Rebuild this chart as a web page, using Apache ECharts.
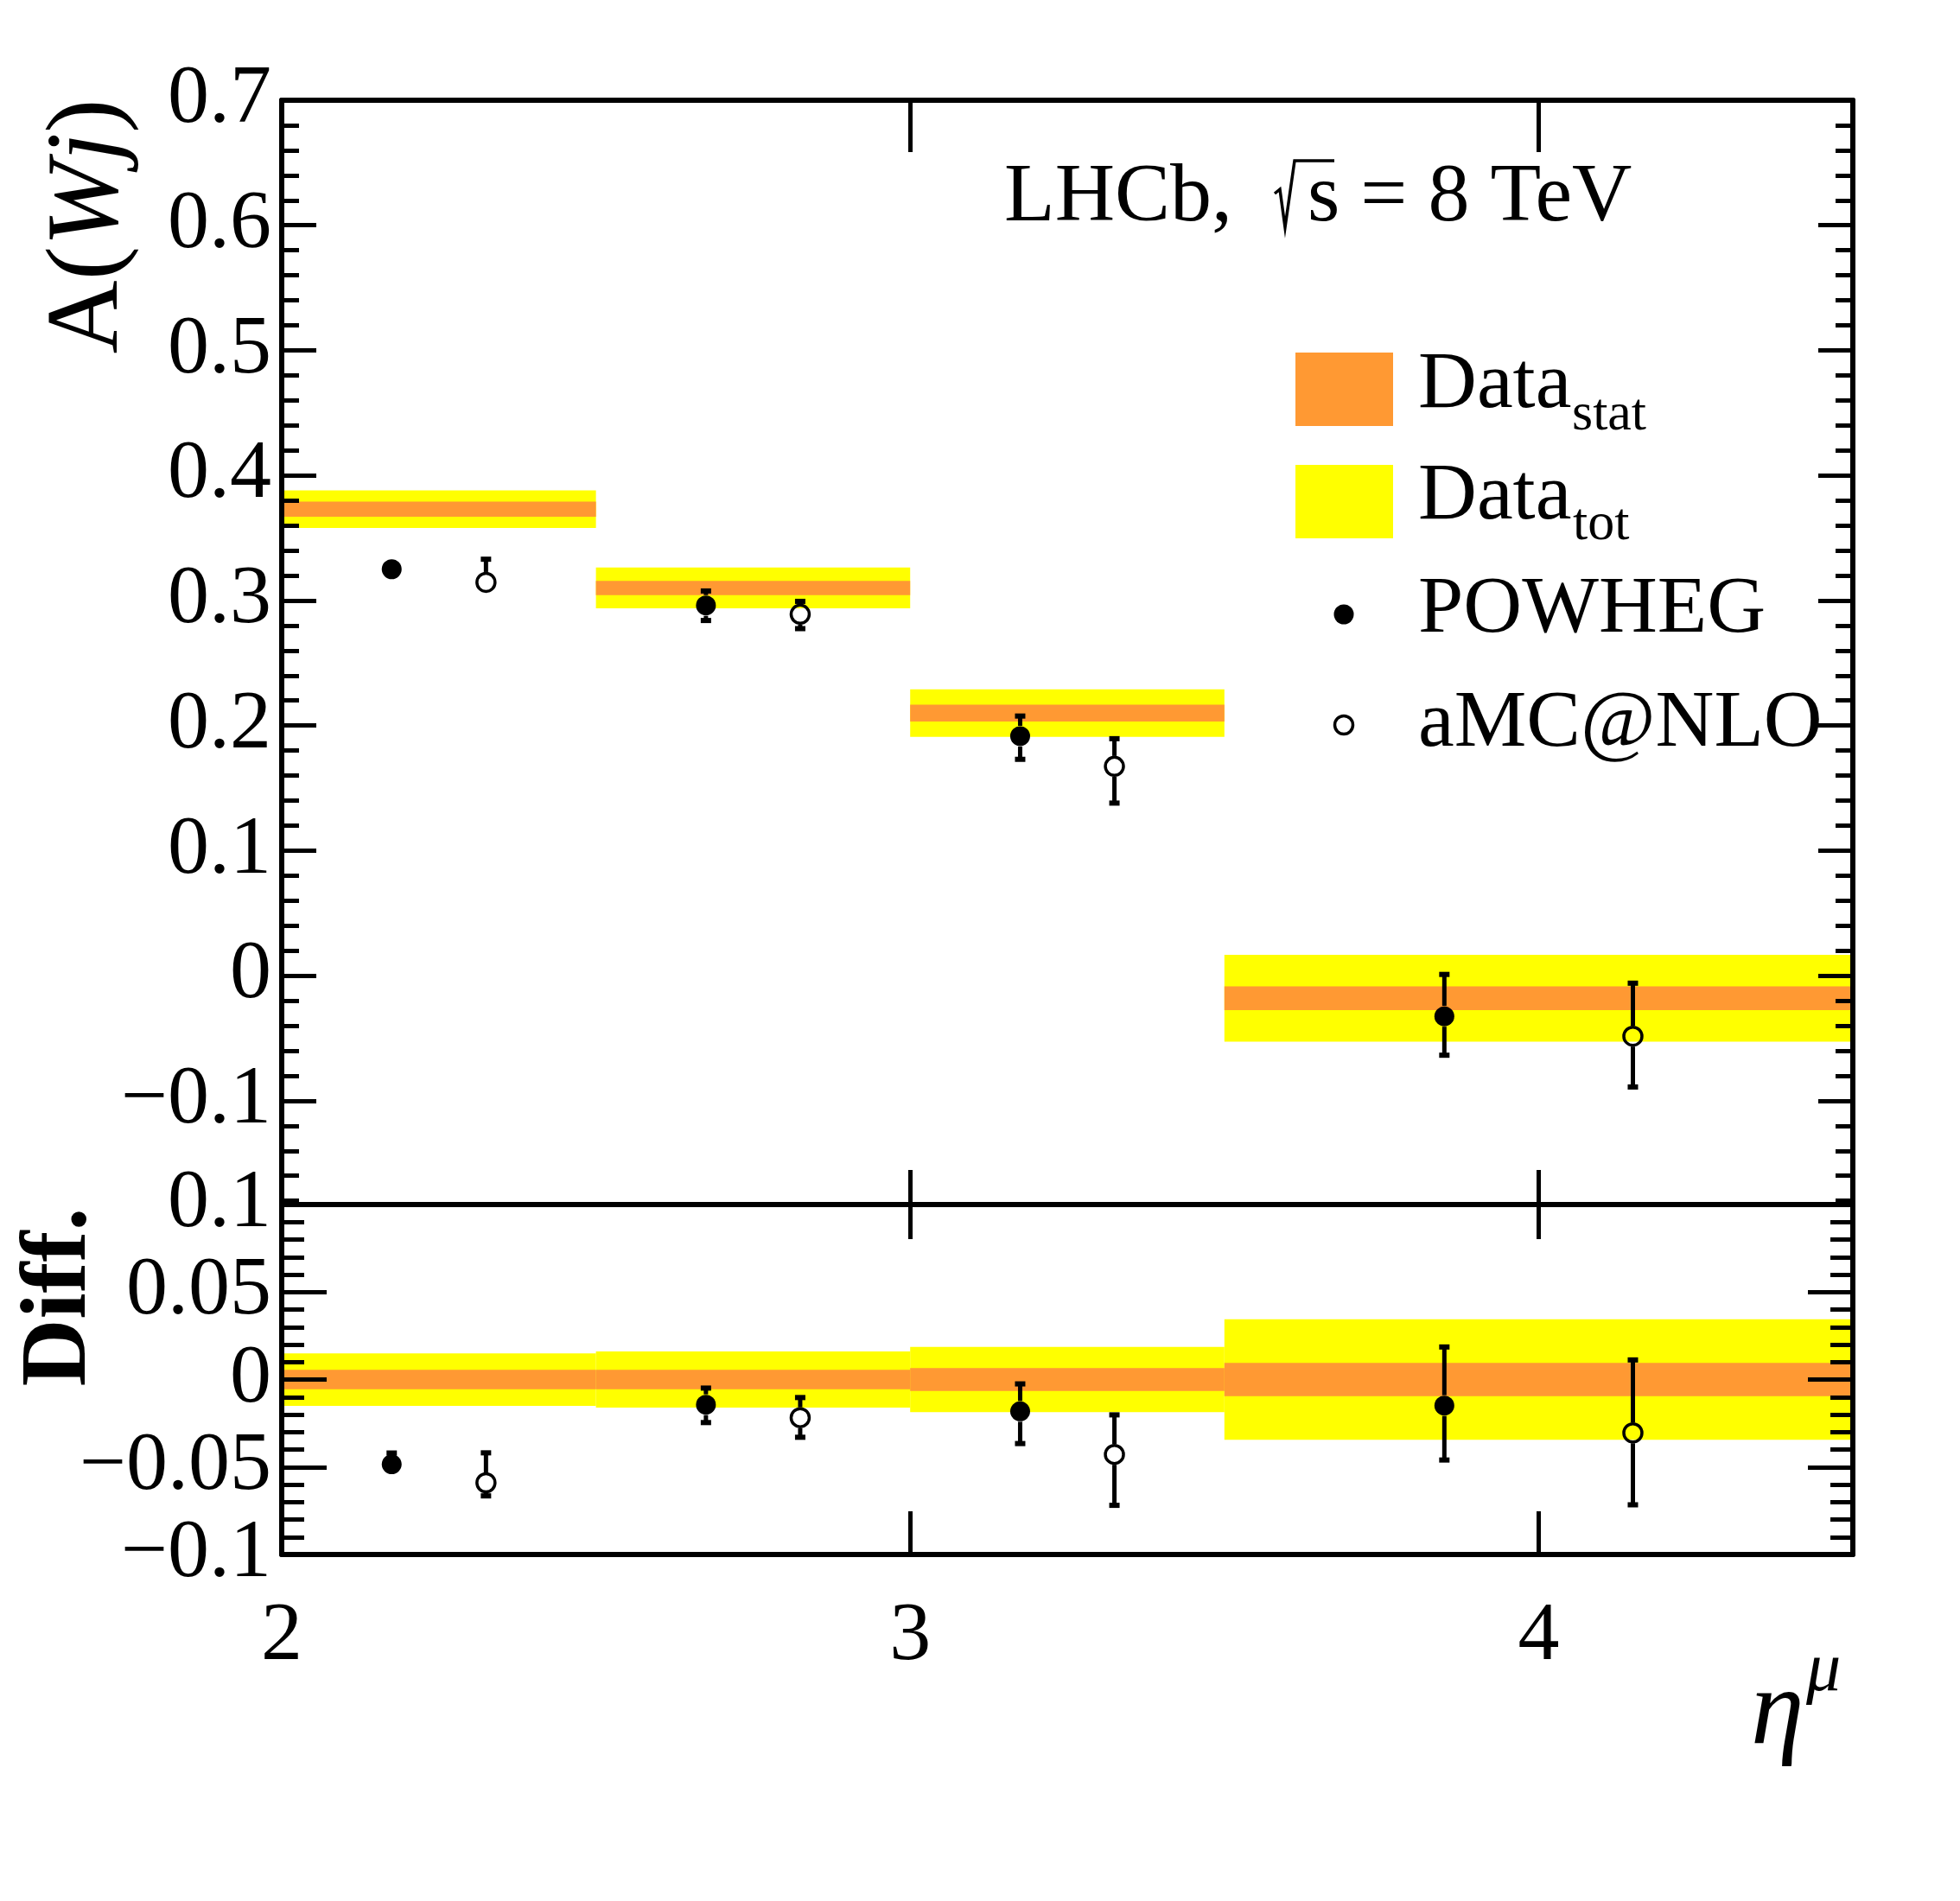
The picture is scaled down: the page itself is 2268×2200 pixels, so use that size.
<!DOCTYPE html>
<html>
<head>
<meta charset="utf-8">
<script src="https://cdn.jsdelivr.net/npm/echarts@6/dist/echarts.min.js"></script>
<style>
  html, body { margin: 0; padding: 0; background: #fff; }
  #chart { width: 2268px; height: 2200px; }
</style>
</head>
<body>
<div id="chart"></div>
<script>
// W+jet charge asymmetry vs muon pseudorapidity

var binLow = [2.0, 2.5, 3.0, 3.5];
var binHigh = [2.5, 3.0, 3.5, 4.5];

// measured asymmetry and its uncertainties
var dataCentral = [0.373, 0.310, 0.210, -0.018];
var dataStat = [0.006, 0.0057, 0.0067, 0.0095];
var dataTot = [0.015, 0.0163, 0.019, 0.0347];
var diffStat = [0.0055, 0.0055, 0.0066, 0.0095];
var diffTot = [0.015, 0.016, 0.0187, 0.0345];

// predictions
var powhegEta = [2.175, 2.675, 3.175, 3.85];
var powhegVal = [0.325, 0.296, 0.1915, -0.0325];
var powhegHi = [0.331, 0.3076, 0.2076, 0.001];
var powhegLo = [0.323, 0.284, 0.173, -0.0636];

var amcEta = [2.325, 2.825, 3.325, 4.15];
var amcVal = [0.3145, 0.289, 0.1674, -0.0484];
var amcHi = [0.333, 0.2993, 0.1895, -0.006];
var amcLo = [0.307, 0.2775, 0.138, -0.089];

// difference prediction - data
var powhegDiff = [-0.0484, -0.0144, -0.0182, -0.0149];
var powhegDiffHi = [-0.042, -0.0049, -0.0025, 0.0186];
var powhegDiffLo = [-0.050, -0.0246, -0.0366, -0.046];
var amcDiff = [-0.059, -0.0218, -0.0428, -0.0305];
var amcDiffHi = [-0.0419, -0.0103, -0.0202, 0.0112];
var amcDiffLo = [-0.0665, -0.033, -0.0719, -0.0716];

// axis ticks
var xTicks = [2, 3, 4];
var upperTicks = [-0.1, 0, 0.1, 0.2, 0.3, 0.4, 0.5, 0.6, 0.7];
var upperMinor = [];
for (var k = -9; k <= 34; k++) upperMinor.push(Math.round(k * 2) / 100);

var FONT = 'Liberation Serif';
var ORANGE = '#ff9933';
var YELLOW = '#ffff00';

function minus(v) {
    return String(v).replace('-', '\u2212');
}

function bandData(center, err) {
    return binLow.map(function (lo, i) {
        return [lo, binHigh[i], center ? center[i] : 0, err[i]];
    });
}

function pointData(eta, val, hi, lo) {
    return eta.map(function (x, i) { return [x, val[i], hi[i], lo[i]]; });
}

function bandRender(color) {
    return function (params, api) {
        var a = api.coord([api.value(0), api.value(2) + api.value(3)]);
        var b = api.coord([api.value(1), api.value(2) - api.value(3)]);
        return {
            type: 'rect',
            shape: { x: a[0], y: a[1], width: b[0] - a[0], height: b[1] - a[1] },
            style: { fill: color }
        };
    };
}

function errRender(params, api) {
    var x = api.value(0);
    var c = api.coord([x, api.value(1)]);
    var u = api.coord([x, api.value(2)]);
    var d = api.coord([x, api.value(3)]);
    var r = 12;
    var kids = [];
    var ls = { stroke: '#000', lineWidth: 5 };
    if (c[1] - u[1] > r) {
        kids.push({ type: 'line', shape: { x1: c[0], y1: u[1], x2: c[0], y2: c[1] - r }, style: ls });
        kids.push({ type: 'rect', shape: { x: c[0] - 6, y: u[1] - 3, width: 12, height: 6 }, style: { fill: '#000' } });
    }
    if (d[1] - c[1] > r) {
        kids.push({ type: 'line', shape: { x1: c[0], y1: c[1] + r, x2: c[0], y2: d[1] }, style: ls });
        kids.push({ type: 'rect', shape: { x: c[0] - 6, y: d[1] - 3, width: 12, height: 6 }, style: { fill: '#000' } });
    }
    return { type: 'group', children: kids };
}

function xAxis(grid, pos, len, labels) {
    return {
        type: 'value', gridIndex: grid, position: pos, min: 2, max: 4.5, interval: 1, z: 10,
        axisLine: { show: true, onZero: false, lineStyle: { color: '#000', width: 6 } },
        axisTick: { show: true, inside: true, length: len, customValues: xTicks, lineStyle: { color: '#000', width: 5 } },
        axisLabel: {
            show: labels, customValues: xTicks, margin: 48, fontFamily: FONT, fontSize: 96, color: '#000',
            formatter: function (v) { return xTicks.indexOf(v) >= 0 ? String(v) : ''; }
        },
        splitLine: { show: false }
    };
}

function upperY(pos, ticks, len, line, labels) {
    return {
        type: 'value', gridIndex: 0, position: pos, min: -0.183, max: 0.7, z: 10,
        axisLine: { show: line, onZero: false, lineStyle: { color: '#000', width: 6 } },
        axisTick: { show: true, inside: true, length: len, customValues: ticks, lineStyle: { color: '#000', width: 5 } },
        axisLabel: {
            show: labels, customValues: upperTicks, margin: 12, fontFamily: FONT, fontSize: 96, color: '#000',
            formatter: function (v) { return minus(Math.round(v * 10) / 10); }
        },
        splitLine: { show: false }
    };
}

function lowerY(pos, labels) {
    return {
        type: 'value', gridIndex: 1, position: pos, min: -0.1, max: 0.1, interval: 0.05, z: 10,
        axisLine: { show: true, onZero: false, lineStyle: { color: '#000', width: 6 } },
        axisTick: { show: true, inside: true, length: 52, lineStyle: { color: '#000', width: 5 } },
        minorTick: { show: true, splitNumber: 5, length: 26, lineStyle: { color: '#000', width: 5 } },
        axisLabel: {
            show: labels, margin: 12, fontFamily: FONT, fontSize: 96, color: '#000',
            showMinLabel: true, showMaxLabel: true,
            formatter: function (v) { return minus(Math.round(v * 100) / 100); }
        },
        splitLine: { show: false }
    };
}

var filled = { color: '#000', opacity: 1 };
var hollow = { color: 'rgba(0,0,0,0)', borderColor: '#000', borderWidth: 3.5, opacity: 1 };

var chart = echarts.init(document.getElementById('chart'), null, { renderer: 'canvas' });

var option = {
    backgroundColor: '#fff',
    animation: false,
    grid: [
        { left: 326, right: 124, top: 116, height: 1278, containLabel: false, outerBoundsMode: 'none' },
        { left: 326, right: 124, top: 1394, height: 405, containLabel: false, outerBoundsMode: 'none' }
    ],
    xAxis: [
        xAxis(0, 'bottom', 40, false),
        xAxis(0, 'top', 60, false),
        xAxis(1, 'bottom', 50, true),
        xAxis(1, 'top', 40, false)
    ],
    yAxis: [
        upperY('left', upperTicks, 40, true, true),
        upperY('left', upperMinor, 20, false, false),
        upperY('right', upperTicks, 40, true, false),
        upperY('right', upperMinor, 20, false, false),
        lowerY('left', true),
        lowerY('right', false)
    ],
    series: [
        {
            name: 'Data_tot', type: 'custom', xAxisIndex: 0, yAxisIndex: 0, z: 1,
            renderItem: bandRender(YELLOW), encode: { x: [0, 1], y: [2] },
            data: bandData(dataCentral, dataTot)
        },
        {
            name: 'Data_stat', type: 'custom', xAxisIndex: 0, yAxisIndex: 0, z: 2,
            renderItem: bandRender(ORANGE), encode: { x: [0, 1], y: [2] },
            data: bandData(dataCentral, dataStat)
        },
        {
            name: 'Data_tot diff', type: 'custom', xAxisIndex: 2, yAxisIndex: 4, z: 1,
            renderItem: bandRender(YELLOW), encode: { x: [0, 1], y: [2] },
            data: bandData(null, diffTot)
        },
        {
            name: 'Data_stat diff', type: 'custom', xAxisIndex: 2, yAxisIndex: 4, z: 2,
            renderItem: bandRender(ORANGE), encode: { x: [0, 1], y: [2] },
            data: bandData(null, diffStat)
        },
        {
            type: 'custom', xAxisIndex: 0, yAxisIndex: 0, z: 3, renderItem: errRender,
            encode: { x: 0, y: [1, 2, 3] }, data: pointData(powhegEta, powhegVal, powhegHi, powhegLo)
        },
        {
            type: 'custom', xAxisIndex: 0, yAxisIndex: 0, z: 3, renderItem: errRender,
            encode: { x: 0, y: [1, 2, 3] }, data: pointData(amcEta, amcVal, amcHi, amcLo)
        },
        {
            type: 'custom', xAxisIndex: 2, yAxisIndex: 4, z: 3, renderItem: errRender,
            encode: { x: 0, y: [1, 2, 3] }, data: pointData(powhegEta, powhegDiff, powhegDiffHi, powhegDiffLo)
        },
        {
            type: 'custom', xAxisIndex: 2, yAxisIndex: 4, z: 3, renderItem: errRender,
            encode: { x: 0, y: [1, 2, 3] }, data: pointData(amcEta, amcDiff, amcDiffHi, amcDiffLo)
        },
        {
            name: 'POWHEG', type: 'scatter', xAxisIndex: 0, yAxisIndex: 0, z: 4,
            symbol: 'circle', symbolSize: 23, itemStyle: filled,
            data: powhegEta.map(function (x, i) { return [x, powhegVal[i]]; })
        },
        {
            name: 'aMC@NLO', type: 'scatter', xAxisIndex: 0, yAxisIndex: 0, z: 4,
            symbol: 'circle', symbolSize: 21, itemStyle: hollow,
            data: amcEta.map(function (x, i) { return [x, amcVal[i]]; })
        },
        {
            type: 'scatter', xAxisIndex: 2, yAxisIndex: 4, z: 4,
            symbol: 'circle', symbolSize: 23, itemStyle: filled,
            data: powhegEta.map(function (x, i) { return [x, powhegDiff[i]]; })
        },
        {
            type: 'scatter', xAxisIndex: 2, yAxisIndex: 4, z: 4,
            symbol: 'circle', symbolSize: 21, itemStyle: hollow,
            data: amcEta.map(function (x, i) { return [x, amcDiff[i]]; })
        }
    ],
    graphic: [
        // legend
        { type: 'rect', shape: { x: 1499, y: 408, width: 113, height: 85 }, style: { fill: ORANGE } },
        { type: 'rect', shape: { x: 1499, y: 538, width: 113, height: 85 }, style: { fill: YELLOW } },
        { type: 'text', x: 1641, y: 446, style: { text: 'Data', font: '94px "Liberation Serif"', fill: '#000', verticalAlign: 'middle' } },
        { type: 'text', x: 1819, y: 481, style: { text: 'stat', font: '62px "Liberation Serif"', fill: '#000', verticalAlign: 'middle' } },
        { type: 'text', x: 1641, y: 575, style: { text: 'Data', font: '94px "Liberation Serif"', fill: '#000', verticalAlign: 'middle' } },
        { type: 'text', x: 1820, y: 608, style: { text: 'tot', font: '62px "Liberation Serif"', fill: '#000', verticalAlign: 'middle' } },
        { type: 'circle', shape: { cx: 1555, cy: 711, r: 11.5 }, style: { fill: '#000' } },
        { type: 'text', x: 1641, y: 706, style: { text: 'POWHEG', font: '94px "Liberation Serif"', fill: '#000', verticalAlign: 'middle' } },
        { type: 'circle', shape: { cx: 1555, cy: 839, r: 10.5 }, style: { fill: 'none', stroke: '#000', lineWidth: 3.5 } },
        { type: 'text', x: 1641, y: 838, style: { text: 'aMC@NLO', font: '94px "Liberation Serif"', fill: '#000', verticalAlign: 'middle' } },
        // experiment label
        { type: 'text', x: 1162, y: 230, style: { text: 'LHCb,', font: '96px "Liberation Serif"', fill: '#000', verticalAlign: 'middle' } },
        { type: 'polyline', shape: { points: [[1475, 224], [1481, 219], [1487, 263], [1498, 186], [1544, 186]] }, style: { stroke: '#000', lineWidth: 3.5, fill: 'none' } },
        { type: 'text', x: 1513, y: 230, style: { text: 's = 8 TeV', font: '96px "Liberation Serif"', fill: '#000', verticalAlign: 'middle' } },
        // axis titles
        {
            type: 'text', x: 104, y: 262, rotation: Math.PI / 2,
            style: {
                text: '{n|A(}{i|Wj}{n|)}', align: 'center', verticalAlign: 'middle',
                rich: {
                    n: { fontFamily: FONT, fontSize: 118, fill: '#000' },
                    i: { fontFamily: FONT, fontSize: 118, fontStyle: 'italic', fill: '#000' }
                }
            }
        },
        {
            type: 'text', x: 70, y: 1501, rotation: Math.PI / 2,
            style: { text: 'Diff.', font: 'bold 108px "Liberation Serif"', fill: '#000', align: 'center', verticalAlign: 'middle' }
        },
        { type: 'text', x: 2026, y: 1984, style: { text: '\u03b7', font: 'italic 124px "Liberation Serif"', fill: '#000', verticalAlign: 'middle' } },
        { type: 'text', x: 2090, y: 1935, style: { text: '\u03bc', font: 'italic 80px "Liberation Serif"', fill: '#000', verticalAlign: 'middle' } }
    ]
};

chart.setOption(option);

window.addEventListener('resize', function () {
    chart.resize();
});
</script>
</body>
</html>
